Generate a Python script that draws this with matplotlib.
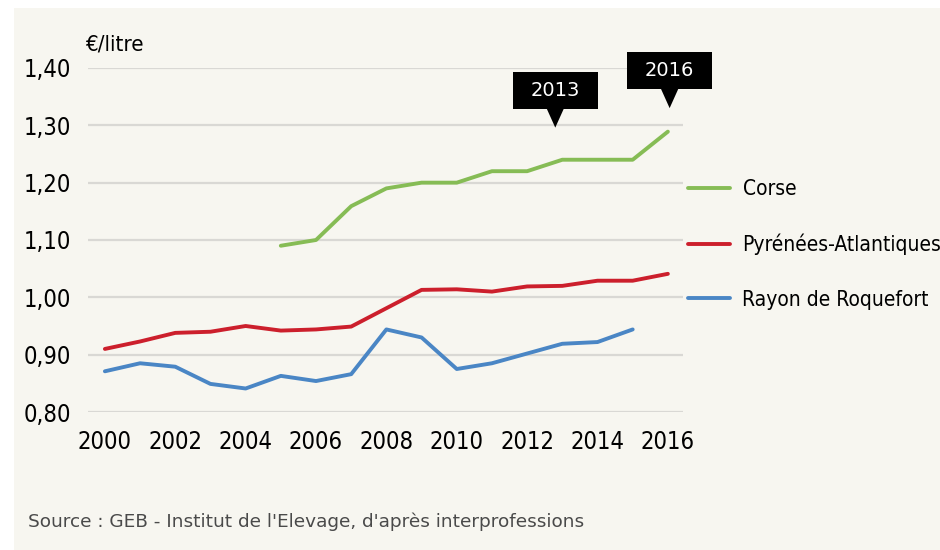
import matplotlib
matplotlib.use("Agg")
import matplotlib.pyplot as plt
from matplotlib import font_manager
from matplotlib.font_manager import FontProperties
from matplotlib.patches import Rectangle, Polygon

# data
years = list(range(2000, 2017))
corse_years = list(range(2005, 2017))
corse = [1.09, 1.10, 1.159, 1.19, 1.20, 1.20, 1.22, 1.22, 1.24, 1.24, 1.24, 1.289]
pyrenees = [0.910, 0.923, 0.938, 0.940, 0.950, 0.942, 0.944, 0.949, 0.981,
            1.013, 1.014, 1.010, 1.019, 1.020, 1.029, 1.029, 1.041]
roquefort_years = list(range(2000, 2016))
roquefort = [0.871, 0.885, 0.879, 0.849, 0.841, 0.863, 0.854, 0.866, 0.944,
             0.930, 0.875, 0.885, 0.902, 0.919, 0.922, 0.944]
series_names = ["Corse", "Pyrénées-Atlantiques", "Rayon de Roquefort"]
yticks = [0.80, 0.90, 1.00, 1.10, 1.20, 1.30, 1.40]
xticks = list(range(2000, 2017, 2))
# callout labels and where their pointers end (data coords)
callout_labels = ["2013", "2016"]
callout_tips = [(2012.8, 1.296), (2016.05, 1.330)]

green = "#86bc55"
red = "#cc1f2c"
blue = "#4a86c5"
bg = "#f7f6f0"

# find a narrow face if there is one
narrow_file = None
for f in font_manager.fontManager.ttflist:
    if "Liberation Sans Narrow" in f.name and f.weight in (400, "normal", "regular"):
        narrow_file = f.fname
if narrow_file is None:
    for f in font_manager.fontManager.ttflist:
        low = f.fname.lower()
        if ("condensed" in low or "narrow" in low) and "bold" not in low \
                and "oblique" not in low and "italic" not in low and "mono" not in low \
                and "serif" not in low.replace("sans", ""):
            narrow_file = f.fname
            break


def nfont(size):
    if narrow_file:
        return FontProperties(fname=narrow_file, size=size)
    return FontProperties(family="DejaVu Sans", size=size)


W, H = 940, 550
fig = plt.figure(figsize=(W / 100, H / 100), dpi=100)
fig.patch.set_facecolor("white")
fig.patches.append(Rectangle((14 / W, 0), 1, 1 - 8 / H, transform=fig.transFigure,
                             facecolor=bg, edgecolor="none", zorder=-10))

ax = fig.add_axes([88 / W, 1 - 412 / H, (683 - 88) / W, (412 - 68) / H])
ax.patch.set_alpha(0)
ax.set_xlim(1999.52, 2016.43)
ax.set_ylim(0.80, 1.40)

for v in yticks:
    ax.axhline(v, color="#d9d8d4", lw=1.6, zorder=1)

l1, = ax.plot(corse_years, corse, color=green, lw=2.8, solid_capstyle="round", zorder=3)
l2, = ax.plot(years, pyrenees, color=red, lw=2.8, solid_capstyle="round", zorder=3)
l3, = ax.plot(roquefort_years, roquefort, color=blue, lw=2.8, solid_capstyle="round", zorder=3)

for s in ax.spines.values():
    s.set_visible(False)
ax.tick_params(length=0)
ax.set_yticks(yticks)
ax.set_yticklabels([f"{v:.2f}".replace(".", ",") for v in yticks], fontproperties=nfont(17))
ax.set_xticks(xticks)
ax.set_xticklabels([str(x) for x in xticks], fontproperties=nfont(17))
ax.tick_params(axis="x", pad=13)
ax.tick_params(axis="y", pad=12)

fig.text(85 / W, 1 - 45 / H, "€/litre", fontproperties=nfont(16),
         va="center", ha="left")

leg = fig.legend([l1, l2, l3], series_names, loc="upper left",
                 bbox_to_anchor=(680 / W, 1 - 171 / H), frameon=False,
                 prop=nfont(15), handlelength=2.0, handletextpad=0.6,
                 labelspacing=1.65, borderaxespad=0)

# black callouts
box_w, box_h, ptr_h = 85, 37, 19
for lab, (cx, cy) in zip(callout_labels, callout_tips):
    tx, ty = ax.transData.transform((cx, cy))
    bx = tx - box_w / 2
    by = ty + ptr_h
    fig.patches.append(Rectangle((bx / W, by / H), box_w / W, box_h / H,
                                 transform=fig.transFigure, facecolor="black",
                                 edgecolor="none", zorder=5))
    fig.patches.append(Polygon([((tx - 9) / W, (by + 1) / H), ((tx + 9) / W, (by + 1) / H),
                                (tx / W, ty / H)], closed=True,
                               transform=fig.transFigure, facecolor="black",
                               edgecolor="none", zorder=5))
    fig.text(tx / W, (by + box_h / 2) / H, lab, color="white",
             fontsize=14, ha="center", va="center", zorder=6)

fig.text(28 / W, 1 - 522 / H, "Source : GEB - Institut de l'Elevage, d'après interprofessions",
         fontsize=13.3, color="#4a4a4a", va="center", ha="left")

fig.savefig("out.png", dpi=100, facecolor=fig.get_facecolor())
